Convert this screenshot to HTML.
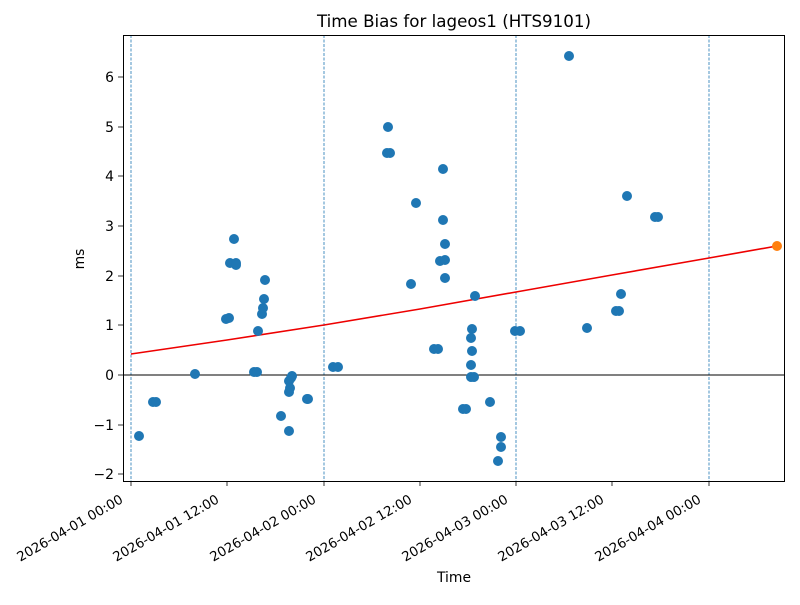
<!DOCTYPE html>
<html><head><meta charset="utf-8"><style>
body{margin:0;background:#fff;}
svg text{font-family:"DejaVu Sans","Liberation Sans",sans-serif;fill:#000;}
</style></head><body>
<svg width="800" height="600" xmlns="http://www.w3.org/2000/svg">
<rect width="800" height="600" fill="#fff"/>
<text x="454" y="27" font-size="16.7" text-anchor="middle">Time Bias for lageos1 (HTS9101)</text>
<g stroke="#1f77b4" stroke-width="0.8" stroke-dasharray="3,1.5">
<line x1="131" y1="35" x2="131" y2="481"/><line x1="324" y1="35" x2="324" y2="481"/>
<line x1="516" y1="35" x2="516" y2="481"/><line x1="709" y1="35" x2="709" y2="481"/>
</g>
<line x1="123" y1="375" x2="785" y2="375" stroke="#000" stroke-width="1"/>
<polyline fill="none" stroke="#e00" stroke-width="1.6" points="131,354 227,340 324,325 420,309 516,292 612,275 709,258 777,246"/>
<g fill="#1f77b4">
<circle cx="139" cy="436" r="5"/><circle cx="153" cy="402" r="5"/><circle cx="156" cy="402" r="5"/><circle cx="195" cy="374" r="5"/>
<circle cx="226" cy="319" r="5"/><circle cx="229" cy="318" r="5"/><circle cx="230" cy="263" r="5"/><circle cx="234" cy="239" r="5"/>
<circle cx="236" cy="263" r="5"/><circle cx="236" cy="265" r="5"/><circle cx="254" cy="372" r="5"/><circle cx="257" cy="372" r="5"/>
<circle cx="258" cy="331" r="5"/><circle cx="262" cy="314" r="5"/><circle cx="263" cy="308" r="5"/><circle cx="264" cy="299" r="5"/>
<circle cx="265" cy="280" r="5"/><circle cx="281" cy="416" r="5"/><circle cx="289" cy="381" r="5"/><circle cx="289" cy="392" r="5"/>
<circle cx="289" cy="431" r="5"/><circle cx="290" cy="388" r="5"/><circle cx="291" cy="378" r="5"/><circle cx="292" cy="376" r="5"/>
<circle cx="307" cy="399" r="5"/><circle cx="308" cy="399" r="5"/><circle cx="333" cy="367" r="5"/><circle cx="338" cy="367" r="5"/>
<circle cx="388" cy="127" r="5"/><circle cx="387" cy="153" r="5"/><circle cx="390" cy="153" r="5"/><circle cx="411" cy="284" r="5"/>
<circle cx="416" cy="203" r="5"/><circle cx="434" cy="349" r="5"/><circle cx="438" cy="349" r="5"/><circle cx="440" cy="261" r="5"/>
<circle cx="443" cy="169" r="5"/><circle cx="443" cy="220" r="5"/><circle cx="445" cy="244" r="5"/><circle cx="445" cy="260" r="5"/>
<circle cx="445" cy="278" r="5"/><circle cx="463" cy="409" r="5"/><circle cx="466" cy="409" r="5"/><circle cx="471" cy="338" r="5"/>
<circle cx="471" cy="365" r="5"/><circle cx="472" cy="329" r="5"/><circle cx="472" cy="351" r="5"/><circle cx="471" cy="377" r="5"/>
<circle cx="474" cy="377" r="5"/><circle cx="475" cy="296" r="5"/><circle cx="490" cy="402" r="5"/><circle cx="498" cy="461" r="5"/>
<circle cx="501" cy="437" r="5"/><circle cx="501" cy="447" r="5"/><circle cx="515" cy="331" r="5"/><circle cx="520" cy="331" r="5"/>
<circle cx="569" cy="56" r="5"/><circle cx="587" cy="328" r="5"/><circle cx="616" cy="311" r="5"/><circle cx="619" cy="311" r="5"/>
<circle cx="621" cy="294" r="5"/><circle cx="627" cy="196" r="5"/><circle cx="655" cy="217" r="5"/><circle cx="658" cy="217" r="5"/>
</g>
<circle cx="777" cy="246" r="5" fill="#ff7f0e"/>
<rect x="123.5" y="35.5" width="661" height="446" fill="none" stroke="#000" stroke-width="1"/>
<g stroke="#000" stroke-width="0.8">
<line x1="118" y1="77" x2="123" y2="77"/><line x1="118" y1="127" x2="123" y2="127"/><line x1="118" y1="176" x2="123" y2="176"/>
<line x1="118" y1="226" x2="123" y2="226"/><line x1="118" y1="276" x2="123" y2="276"/><line x1="118" y1="325" x2="123" y2="325"/>
<line x1="118" y1="375" x2="123" y2="375"/><line x1="118" y1="425" x2="123" y2="425"/><line x1="118" y1="474" x2="123" y2="474"/>
<line x1="131" y1="481" x2="131" y2="486"/><line x1="227" y1="481" x2="227" y2="486"/><line x1="324" y1="481" x2="324" y2="486"/>
<line x1="420" y1="481" x2="420" y2="486"/><line x1="516" y1="481" x2="516" y2="486"/><line x1="612" y1="481" x2="612" y2="486"/>
<line x1="709" y1="481" x2="709" y2="486"/>
</g>
<g font-size="13.9" text-anchor="end">
<text x="114" y="82">6</text><text x="114" y="132">5</text><text x="114" y="181">4</text><text x="114" y="231">3</text>
<text x="114" y="281">2</text><text x="114" y="330">1</text><text x="114" y="380">0</text><text x="114" y="430">−1</text><text x="114" y="479">−2</text>
</g>
<g font-size="13.3" text-anchor="end">
<text transform="translate(124,502) rotate(-30)">2026-04-01 00:00</text>
<text transform="translate(220,502) rotate(-30)">2026-04-01 12:00</text>
<text transform="translate(317,502) rotate(-30)">2026-04-02 00:00</text>
<text transform="translate(413,502) rotate(-30)">2026-04-02 12:00</text>
<text transform="translate(509,502) rotate(-30)">2026-04-03 00:00</text>
<text transform="translate(605,502) rotate(-30)">2026-04-03 12:00</text>
<text transform="translate(702,502) rotate(-30)">2026-04-04 00:00</text>
</g>
<text x="454" y="582" font-size="13.9" text-anchor="middle">Time</text>
<text transform="translate(84,259) rotate(-90)" font-size="13.9" text-anchor="middle">ms</text>
</svg>
</body></html>
